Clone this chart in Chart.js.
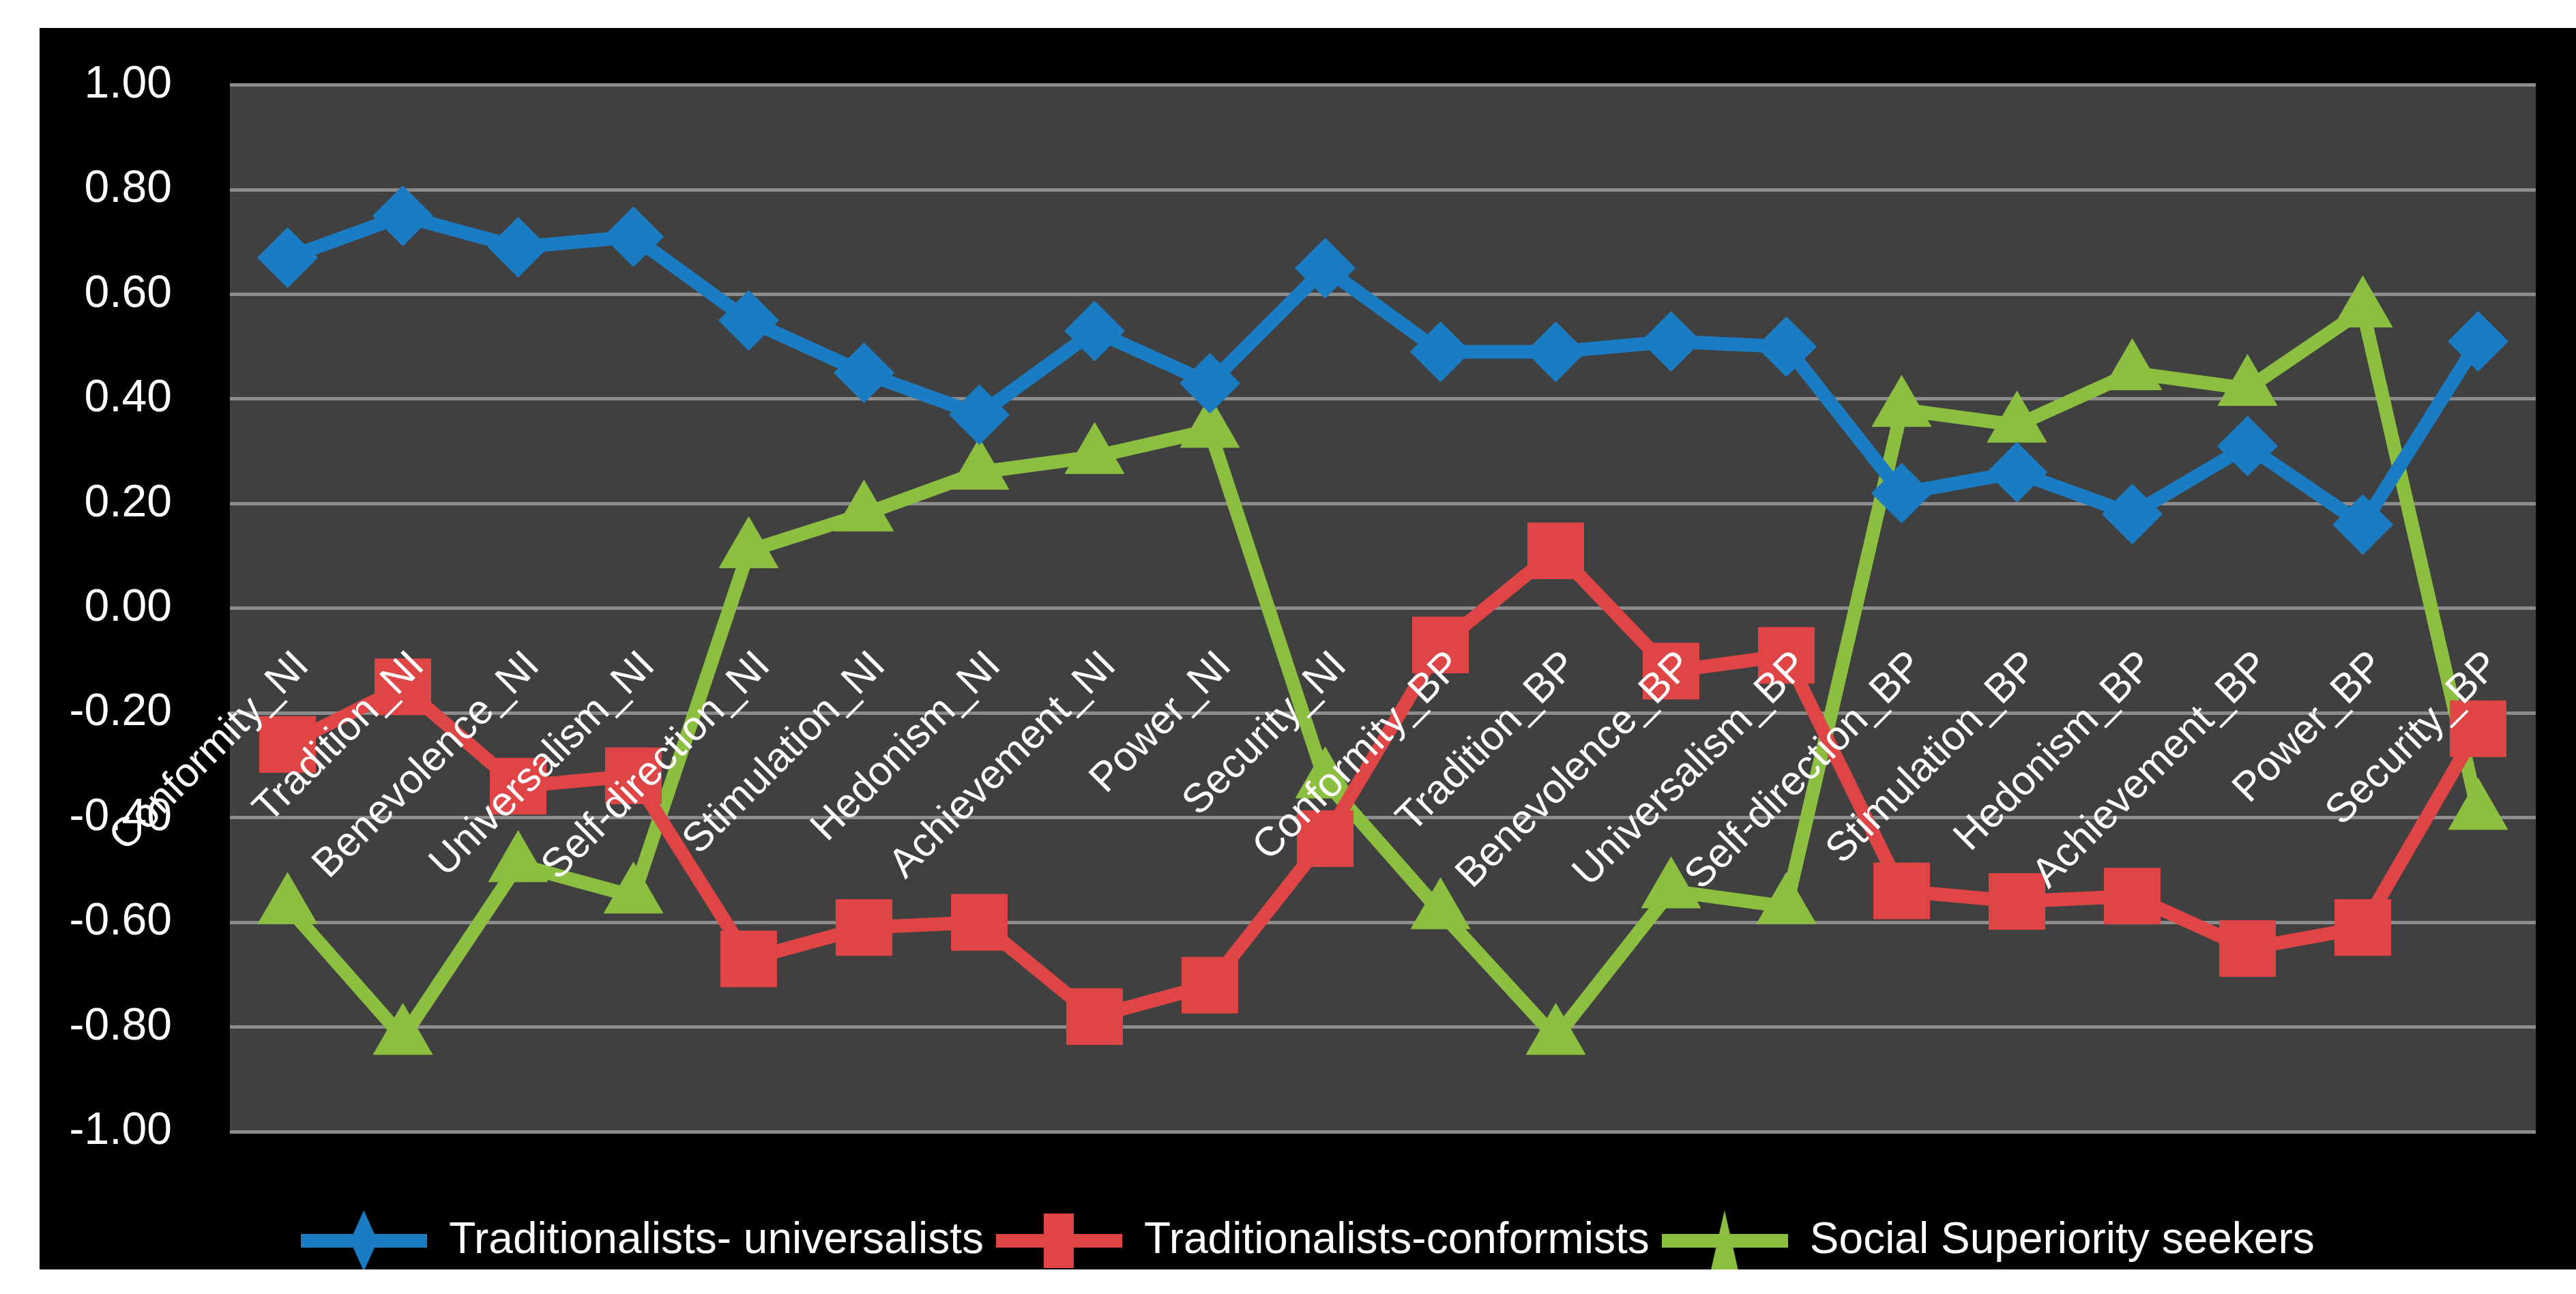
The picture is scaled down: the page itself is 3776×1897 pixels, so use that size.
<!DOCTYPE html>
<html><head><meta charset="utf-8">
<script src="https://cdn.jsdelivr.net/npm/chart.js@4"></script>
<style>html,body{margin:0;padding:0;background:#fff;}canvas{display:block;}</style>
</head><body>
<div style="width:3776px;height:1897px;"><canvas id="c" width="3776" height="1897"></canvas></div>
<script>
const categories = ["Conformity_NI","Tradition_NI","Benevolence_NI","Universalism_NI","Self-direction_NI","Stimulation_NI","Hedonism_NI","Achievement_NI","Power_NI","Security_NI","Conformity_BP","Tradition_BP","Benevolence_BP","Universalism_BP","Self-direction_BP","Stimulation_BP","Hedonism_BP","Achievement_BP","Power_BP","Security_BP"];
const seriesNames = ["Traditionalists- universalists","Traditionalists-conformists","Social Superiority seekers"];
const universalists = [0.67,0.75,0.69,0.71,0.55,0.45,0.37,0.53,0.43,0.65,0.49,0.49,0.51,0.50,0.22,0.26,0.18,0.31,0.16,0.51];
const conformists = [-0.26,-0.15,-0.34,-0.32,-0.67,-0.61,-0.60,-0.78,-0.72,-0.44,-0.07,0.11,-0.12,-0.09,-0.54,-0.56,-0.55,-0.65,-0.61,-0.23];
const superiority = [-0.57,-0.82,-0.49,-0.55,0.11,0.18,0.26,0.29,0.34,-0.33,-0.58,-0.82,-0.54,-0.57,0.38,0.35,0.45,0.42,0.57,-0.39];
const yTicks = [1,0.8,0.6,0.4,0.2,0,-0.2,-0.4,-0.6,-0.8,-1];

const FONT = "'Liberation Sans Narrow','Liberation Sans',Arial,sans-serif";
const colors = ["#1a7dc4","#e04545","#8cbf40"];
const styles = ["rectRot","rect","triangle"];
const radii = [44,58,50];

function legendIcon(color, style){
  const c = document.createElement('canvas'); c.width=185; c.height=90;
  const g = c.getContext('2d');
  g.strokeStyle=color; g.lineWidth=20; g.beginPath(); g.moveTo(0,45); g.lineTo(185,45); g.stroke();
  g.fillStyle=color; g.beginPath();
  if(style==='rectRot'){g.moveTo(92,0);g.lineTo(112,45);g.lineTo(92,90);g.lineTo(72,45);}
  else if(style==='rect'){g.rect(70,5,44,80);}
  else {g.moveTo(92,0);g.lineTo(112,88);g.lineTo(72,88);}
  g.closePath(); g.fill();
  return c;
}
const icons = colors.map((c,i)=>legendIcon(c,styles[i]));

const bgPlugin = {
  id:'bg',
  beforeDraw(chart){
    const ctx=chart.ctx, a=chart.chartArea;
    ctx.save();
    ctx.fillStyle='#000'; ctx.fillRect(58,41,3776-58,1861-41);
    ctx.fillStyle='#404040'; ctx.fillRect(a.left,a.top,a.right-a.left,a.bottom-a.top);
    ctx.restore();
  }
};
const xLabelPlugin = {
  id:'xlabels',
  afterDatasetsDraw(chart){
    const ctx=chart.ctx, xs=chart.scales.x, ys=chart.scales.y;
    const y0=ys.getPixelForValue(0);
    ctx.save();
    ctx.fillStyle='#ffffff'; ctx.font="60px "+FONT;
    ctx.textAlign='right'; ctx.textBaseline='middle';
    categories.forEach((lab,i)=>{
      const x=xs.getPixelForValue(i);
      ctx.save(); ctx.translate(x+22,y0+75); ctx.rotate(-Math.PI/4);
      ctx.fillText(lab,0,0); ctx.restore();
    });
    ctx.restore();
  }
};

const dataSets=[universalists,conformists,superiority].map((d,i)=>({
  label:seriesNames[i], data:d, borderColor:colors[i], backgroundColor:colors[i],
  borderWidth:20, pointStyle:styles[i], pointRadius:radii[i], pointHoverRadius:radii[i],
  pointBorderColor:colors[i], pointBorderWidth:1, tension:0, order:i
}));

new Chart(document.getElementById('c'),{
  type:'line',
  data:{labels:categories,datasets:dataSets},
  plugins:[bgPlugin,xLabelPlugin],
  options:{
    responsive:false, animation:false, devicePixelRatio:1,
    layout:{padding:{left:58,top:34,right:0,bottom:36}},
    scales:{
      x:{display:false, offset:true},
      y:{min:-1,max:1,
        afterBuildTicks(s){s.ticks=yTicks.map(v=>({value:v}));},
        afterFit(s){s.width=279;},
        border:{display:false},
        grid:{color:'#8c8c8c',lineWidth:5,drawTicks:false},
        ticks:{color:'#fff',font:{size:66,family:FONT},padding:85,callback:v=>Number(v).toFixed(2)}}
    },
    plugins:{
      tooltip:{enabled:false},
      legend:{position:'bottom',
        title:{display:true,text:' ',font:{size:50},padding:{top:30,bottom:20}},
        labels:{color:'#fff',font:{size:64,family:FONT},usePointStyle:true,pointStyleWidth:185,boxHeight:64,padding:18,
          generateLabels(chart){return seriesNames.map((n,i)=>({text:n,pointStyle:icons[i],fillStyle:colors[i],strokeStyle:colors[i],fontColor:'#fff',datasetIndex:i,lineWidth:0}));}}}
    }
  }
});
</script></body></html>
